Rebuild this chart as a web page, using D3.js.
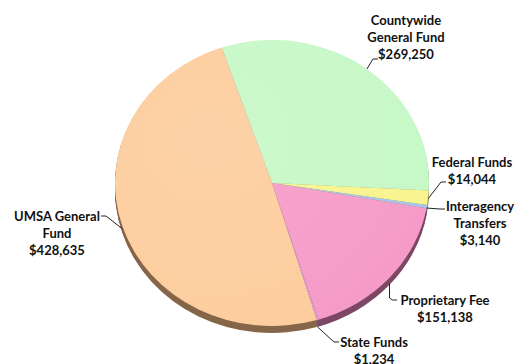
<!DOCTYPE html>
<html>
<head>
<meta charset="utf-8">
<script src="https://cdn.jsdelivr.net/npm/d3@7"></script>
<style>
  html, body { margin: 0; padding: 0; background: #fff; }
  svg { display: block; }
  text { font-family: Lato, "Open Sans", sans-serif; font-weight: 700; font-size: 13px; fill: #111; }
</style>
</head>
<body>
<svg id="chart" width="518" height="364"></svg>
<script>
// Funding sources (in thousands of dollars), clockwise from the top
const categories = ["Countywide General Fund", "Federal Funds", "Interagency Transfers", "Proprietary Fee", "State Funds", "UMSA General Fund"];
const values = [269250, 14044, 3140, 151138, 1234, 428635];
const labelLines = [
  ["Countywide", "General Fund", "$269,250"],
  ["Federal Funds", "$14,044"],
  ["Interagency", "Transfers", "$3,140"],
  ["Proprietary Fee", "$151,138"],
  ["State Funds", "$1,234"],
  ["UMSA General", "Fund", "$428,635"]
];
const topColors  = ["#c6f8c6", "#f8f48e", "#a8c6ea", "#f69ac8", "#dca2e4", "#fdcc9c"];
const sideColors = ["#7f9a7c", "#9a9650", "#6a7f98", "#7c4866", "#7c4e80", "#86664a"];

// Label placement: text block centre x, first baseline y, and where the leader meets the text
const labelLayout = [
  { cx: 406, y: 25,  ex: 378, ey: 59 },
  { cx: 472, y: 167, ex: 446, ey: 182 },
  { cx: 480, y: 211, ex: 445, ey: 209 },
  { cx: 445, y: 305, ex: 397, ey: 300 },
  { cx: 374, y: 347, ex: 339, ey: 342 },
  { cx: 57,  y: 221, ex: 101, ey: 216 }
];

const svg = d3.select("#chart");
const cx = 272, cy = 183, r = 157, squash = 0.911, depth = 7;
const startDeg = -18.7;

const pie = d3.pie().sort(null)
  .startAngle(startDeg * Math.PI / 180)
  .endAngle(startDeg * Math.PI / 180 + 2 * Math.PI);
const arcs = pie(values);
const arc = d3.arc().innerRadius(0).outerRadius(r);

// Side wall: stacked darker copies beneath the top face
for (let k = depth; k >= 1; k--) {
  svg.append("g")
    .attr("transform", `translate(${cx},${cy + k}) scale(1,${squash})`)
    .selectAll("path").data(arcs).join("path")
    .attr("d", arc)
    .attr("fill", (d, i) => sideColors[i]);
}

// Subtle light from the upper left
const defs = svg.append("defs");
const grad = defs.append("radialGradient").attr("id", "shine")
  .attr("cx", "0.3").attr("cy", "0.35").attr("r", "0.8");
grad.append("stop").attr("offset", "0").attr("stop-color", "#fff").attr("stop-opacity", 0.12);
grad.append("stop").attr("offset", "1").attr("stop-color", "#fff").attr("stop-opacity", 0);

const face = svg.append("g").attr("transform", `translate(${cx},${cy}) scale(1,${squash})`);
face.selectAll("path").data(arcs).join("path")
  .attr("d", arc)
  .attr("fill", (d, i) => topColors[i]);
face.append("circle").attr("r", r).attr("fill", "url(#shine)");

// Leader lines from each slice's outer edge to its label
const edge = (d) => {
  const a = (d.startAngle + d.endAngle) / 2;
  const x = cx + r * Math.sin(a);
  let y = cy - r * Math.cos(a) * squash;
  if (Math.cos(a) < 0) y += depth * Math.min(1, -Math.cos(a) * 1.2);
  return [x, y];
};
arcs.forEach((d, i) => {
  const L = labelLayout[i];
  const [x0, y0] = edge(d);
  const dir = L.ex > x0 ? 1 : -1;
  const elbowX = L.ex - dir * 5;
  const pts = i === 3
    ? [[x0, y0], [x0, L.ey - 2], [x0 + 3, L.ey], [L.ex, L.ey]]
    : [[x0, y0], [elbowX, L.ey], [L.ex, L.ey]];
  svg.append("path")
    .attr("d", d3.line()(pts))
    .attr("fill", "none").attr("stroke", "#222").attr("stroke-width", 1);
});

// Labels
labelLines.forEach((lines, i) => {
  const L = labelLayout[i];
  const t = svg.append("text").attr("text-anchor", "middle");
  lines.forEach((s, j) => {
    t.append("tspan").attr("x", L.cx).attr("y", L.y + j * 17).text(s);
  });
});
</script>
</body>
</html>
